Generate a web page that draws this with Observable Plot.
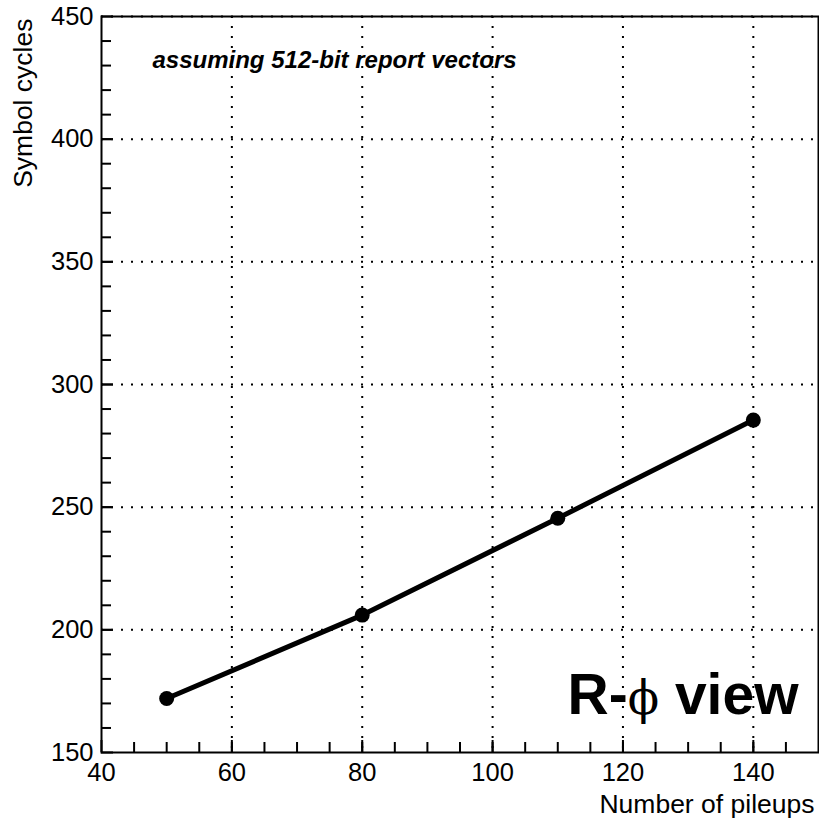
<!DOCTYPE html>
<html>
<head>
<meta charset="utf-8">
<script src="https://cdn.jsdelivr.net/npm/d3@7"></script>
<script src="https://cdn.jsdelivr.net/npm/@observablehq/plot@0.6"></script>
<style>
  html, body { margin: 0; padding: 0; background: #fff; }
  #chart svg { display: block; font-family: "Liberation Sans", Arial, Helvetica, sans-serif; }
</style>
</head>
<body>
<div id="chart"></div>
<script>
// Data
const pileups = [50, 80, 110, 140];
const cycles = [172, 206, 245.5, 285.5];

// Tick values
const xMajorTicks = [40, 60, 80, 100, 120, 140];
const xMinorTicks = d3.range(45, 150, 5);
const yMajorTicks = [150, 200, 250, 300, 350, 400, 450];
const yMinorTicks = d3.range(160, 450, 10);
const xGridTicks = [60, 80, 100, 120, 140];
const yGridTicks = [200, 250, 300, 350, 400, 450];

// Text
const xTitle = "Number of pileups";
const yTitle = "Symbol cycles";
const note = "assuming 512-bit report vectors";
const viewLabel = "R-\u03D5 view";

const points = pileups.map((p, i) => ({x: p, y: cycles[i]}));
const gridStyle = {stroke: "black", strokeOpacity: 1, strokeWidth: 2, strokeDasharray: "2,8"};

const chart = Plot.plot({
  width: 819,
  height: 819,
  marginLeft: 101,
  marginRight: 1,
  marginTop: 16,
  marginBottom: 67,
  style: {fontFamily: "Liberation Sans, Arial, sans-serif", background: "white"},
  x: {domain: [40, 150], axis: null},
  y: {domain: [150, 450], axis: null},
  marks: [
    Plot.gridX(xGridTicks, gridStyle),
    Plot.gridY(yGridTicks, gridStyle),
    Plot.axisX(xMinorTicks, {anchor: "bottom", label: null, tickSize: -10, strokeWidth: 2, tickFormat: () => ""}),
    Plot.axisX(xMajorTicks, {anchor: "bottom", label: null, tickSize: -12, strokeWidth: 2, tickPadding: 22, fontSize: 25.5, fill: "black", tickFormat: d => String(d)}),
    Plot.axisY(yMinorTicks, {anchor: "left", label: null, tickSize: -10, strokeWidth: 2, tickFormat: () => ""}),
    Plot.axisY(yMajorTicks, {anchor: "left", label: null, tickSize: -12, strokeWidth: 2, tickPadding: 20, fontSize: 25.5, fill: "black", tickFormat: d => String(d)}),
    Plot.frame({stroke: "black", strokeWidth: 2}),
    Plot.line(points, {x: "x", y: "y", stroke: "black", strokeWidth: 5}),
    Plot.dot(points, {x: "x", y: "y", r: 7.5, fill: "black", stroke: "none"}),
    Plot.text([note], {frameAnchor: "top-left", dx: 51, dy: 51, textAnchor: "start", lineAnchor: "bottom",
      fontSize: 24, fontWeight: "bold", fontStyle: "italic", fill: "black"}),
    Plot.text([viewLabel], {frameAnchor: "bottom-right", dx: -20, dy: -39, textAnchor: "end", lineAnchor: "bottom",
      fontSize: 57, fontWeight: "bold", fill: "black", className: "viewlabel"}),
    Plot.text([xTitle], {frameAnchor: "bottom-right", dx: -4, dy: 60, textAnchor: "end", lineAnchor: "bottom",
      fontSize: 26.5, fill: "black"}),
    Plot.text([yTitle], {frameAnchor: "top-left", dx: -70, dy: 2, rotate: -90, textAnchor: "end", lineAnchor: "bottom",
      fontSize: 26.5, fill: "black"})
  ]
});

document.getElementById("chart").appendChild(chart);

// Render the phi in a thin serif face, as in the reference
d3.select(chart).selectAll("g.viewlabel text").each(function() {
  const t = d3.select(this);
  const s = t.text();
  const parts = s.split("\u03D5");
  if (parts.length === 2) {
    t.text(null);
    t.append("tspan").text(parts[0]);
    t.append("tspan").attr("font-family", "DejaVu Serif").attr("font-weight", "normal").attr("font-size", 46).text("\u03D5");
    t.append("tspan").text(parts[1]);
  }
});
</script>
</body>
</html>
